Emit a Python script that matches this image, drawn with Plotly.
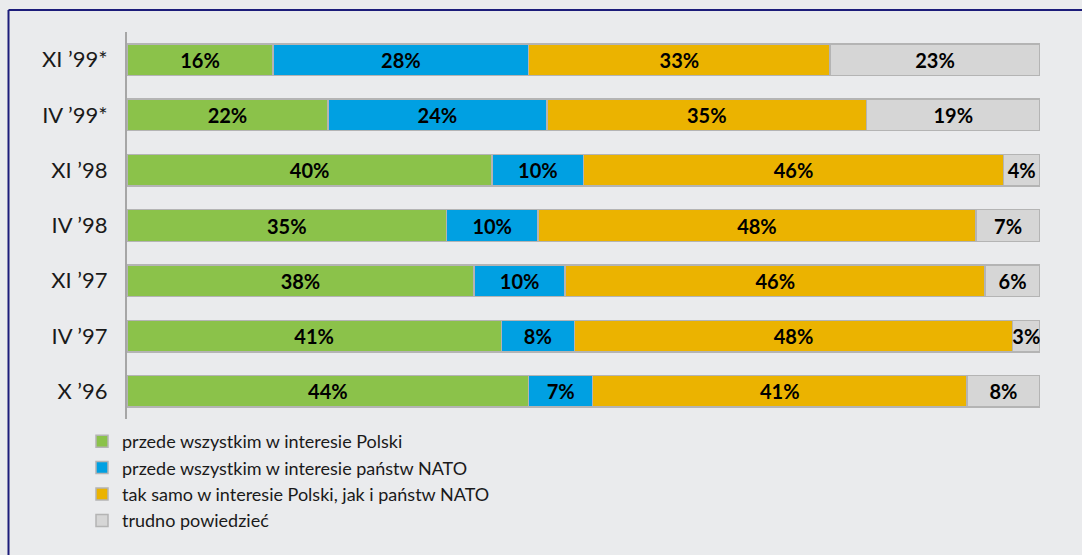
import plotly.graph_objects as go

categories = ["XI ’99*", "IV ’99*", "XI ’98", "IV ’98", "XI ’97", "IV ’97", "X ’96"]
polska = [16, 22, 40, 35, 38, 41, 44]
nato = [28, 24, 10, 10, 10, 8, 7]
oba = [33, 35, 46, 48, 46, 48, 41]
trudno = [23, 19, 4, 7, 6, 3, 8]

series_names = [
    "przede wszystkim w interesie Polski",
    "przede wszystkim w interesie państw NATO",
    "tak samo w interesie Polski, jak i państw NATO",
    "trudno powiedzieć",
]
colors = ["#8bc24a", "#00a0e2", "#ebb300", "#d6d6d6"]

W, H = 1082, 555
BG = "#eaebed"
FONT = "Lato, Open Sans, sans-serif"

fig = go.Figure()
for i, (name, vals, col) in enumerate(zip(series_names, [polska, nato, oba, trudno], colors)):
    fig.add_trace(go.Bar(
        y=categories, x=vals, name=name, orientation="h",
        marker=dict(color=col, line=dict(color="#b4b4b4", width=1.5)),
        text=[f"{v}%" for v in vals], textposition="inside",
        insidetextanchor="middle", constraintext="none", textangle=0,
        textfont=dict(family=FONT, size=20, color="black", weight="bold"),
    ))

fig.update_layout(
    barmode="stack",
    width=W, height=H,
    margin=dict(l=0, r=0, t=0, b=0),
    paper_bgcolor=BG, plot_bgcolor=BG,
    bargap=0.43,
    font=dict(family=FONT, size=18, color="#1a1a1a"),
    xaxis=dict(domain=[127 / W, 1040 / W], range=[0, 100], showgrid=False,
               showticklabels=False, zeroline=False, fixedrange=True),
    yaxis=dict(domain=[1 - 419 / H, 1 - 32 / H], autorange="reversed",
               showline=True, linecolor="#a6a6a6", linewidth=2,
               ticks="", ticklabelstandoff=13, showgrid=False,
               tickfont=dict(family=FONT, size=22, color="#1a1a1a")),
    legend=dict(x=82 / W, y=1 - 423 / H, xanchor="left", yanchor="top",
                traceorder="normal", tracegroupgap=0,
                font=dict(family=FONT, size=18, color="#1a1a1a"),
                bgcolor="rgba(0,0,0,0)", itemwidth=30),
    showlegend=True,
    shapes=[
        dict(type="line", xref="paper", yref="paper", x0=8.5 / W, x1=1.0,
             y0=1 - 10 / H, y1=1 - 10 / H, line=dict(color="#1c1c7a", width=2)),
        dict(type="line", xref="paper", yref="paper", x0=8.5 / W, x1=8.5 / W,
             y0=0, y1=1 - 10 / H, line=dict(color="#1c1c7a", width=2)),
    ],
)

fig.write_html(
    "out.html",
    config={"displayModeBar": False},
    post_script="document.body.style.margin='0';document.body.style.background='#eaebed';",
)
